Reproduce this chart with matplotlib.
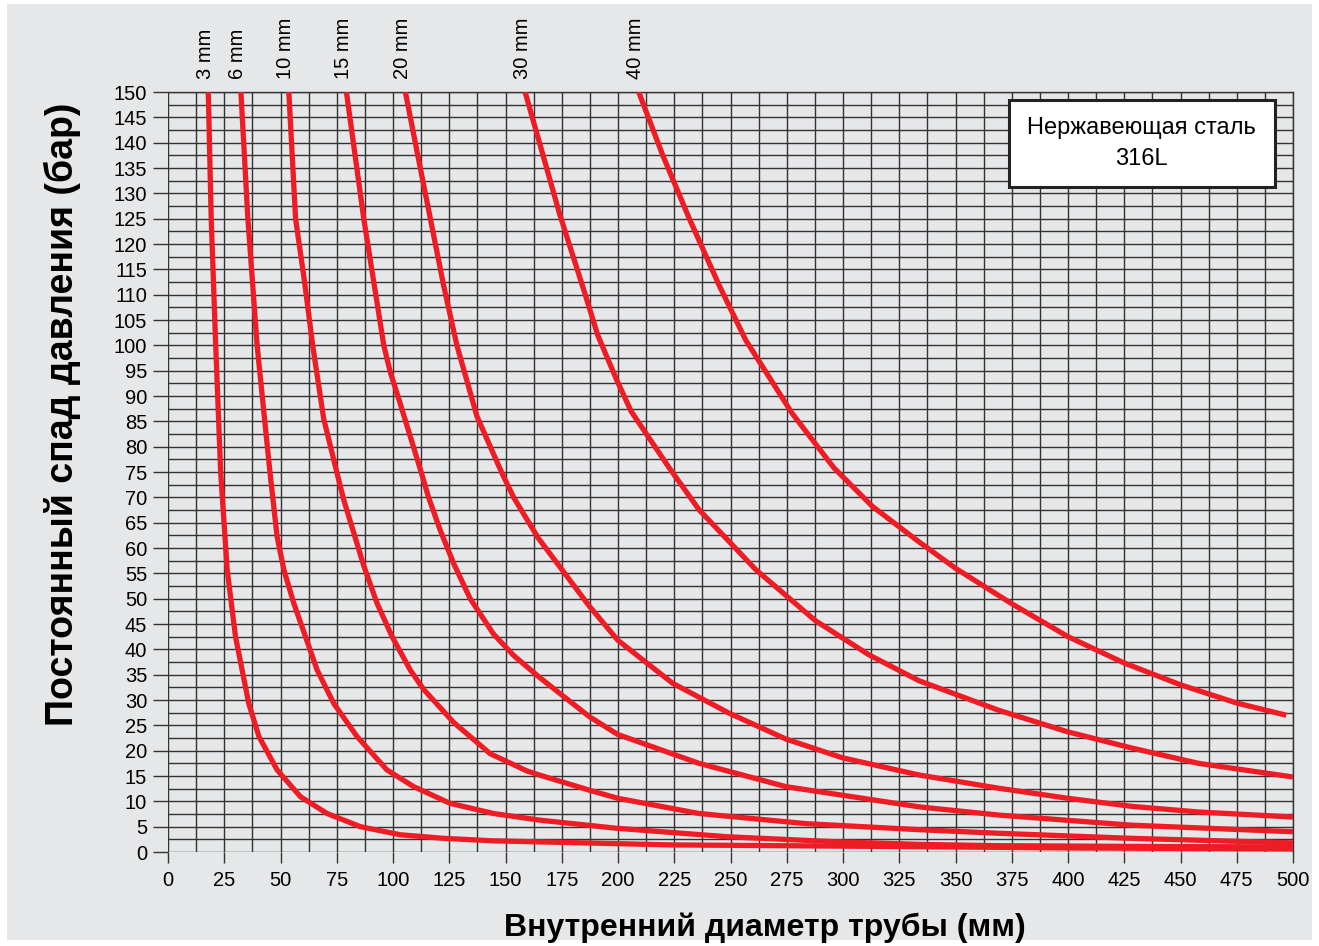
import matplotlib
matplotlib.use('Agg')
import matplotlib.pyplot as plt
from matplotlib.patches import Rectangle
from matplotlib.ticker import MultipleLocator

plt.rcParams['font.family'] = ['Liberation Sans', 'DejaVu Sans']

# values: inner pipe diameter (mm) -> pressure drop (bar)
labels = ['3 mm', '6 mm', '10 mm', '15 mm', '20 mm', '30 mm', '40 mm']

d_3 = [17.9, 19.2, 21.2, 23.4, 26.3, 30.0, 35.9, 40.4, 48.5, 58.9, 70.7, 85.5, 103.3, 122.5, 144.7, 165, 224, 334, 400, 500]
p_3 = [150, 125, 100, 75, 55.7, 42.5, 29.3, 22.8, 16.2, 10.9, 7.6, 5.0, 3.4, 2.7, 2.2, 2.0, 1.4, 1.05, 0.8, 0.6]

d_6 = [32.4, 35.5, 39.6, 45.3, 48.5, 51.5, 55.9, 61.1, 66.3, 73.7, 84.0, 97.3, 109.2, 125.4, 144.7, 165, 199, 249, 298, 334, 369, 430, 500]
p_6 = [150, 125, 100, 75, 62.2, 55.7, 49.1, 42.5, 35.9, 29.3, 22.8, 16.2, 12.9, 9.6, 7.6, 6.3, 4.7, 3.0, 2.0, 1.5, 1.25, 1.1, 1.0]

d_10 = [53.7, 56.7, 60.7, 64.3, 69.2, 75, 78.1, 87, 92.9, 99.6, 107.7, 113.6, 126.9, 143.2, 159.5, 165, 187.3, 199.9, 236, 283.5, 334, 369, 428, 500]
p_10 = [150, 125, 112.5, 100, 85.5, 75, 69.5, 56.5, 49.1, 42.5, 35.9, 32.1, 25.6, 19.4, 16.0, 15.2, 12.2, 10.6, 7.6, 5.6, 4.4, 3.7, 2.7, 1.8]

d_15 = [79.3, 87, 95.9, 98.8, 103, 112.5, 115.8, 121, 126.9, 134.3, 144.7, 153.6, 165, 187.3, 199.9, 236, 274.6, 334, 369, 428, 500]
p_15 = [150, 125, 100, 94.7, 88.8, 75, 70, 63.5, 57, 50, 43, 38.8, 34.5, 26.7, 23.2, 17.5, 12.9, 8.9, 7.3, 5.3, 4.0]

d_20 = [105.5, 110.7, 116.6, 122.5, 128.4, 137.3, 148.2, 153.6, 164.5, 187.3, 199.9, 224.3, 249.4, 274.6, 299.7, 333.8, 369, 400, 428.5, 458, 500]
p_20 = [150, 138.2, 125, 111.8, 100, 86, 75, 70, 62, 48.5, 41.8, 33.3, 27.4, 22.3, 18.6, 15.2, 12.6, 10.6, 9.0, 7.9, 6.9]

d_30 = [158.7, 165.1, 174, 185.1, 191, 199.1, 205.8, 222.8, 236.1, 261.3, 287.9, 311.6, 333.8, 369, 400, 428.5, 458, 500]
p_30 = [150, 140, 126, 110.5, 102, 93.5, 87, 75.8, 67.5, 55.7, 45.6, 38.9, 33.8, 28.0, 23.7, 20.5, 17.5, 14.8]

d_40 = [209.2, 219.9, 231.7, 245, 256.8, 277.5, 296, 313.1, 333.8, 350, 375, 400, 425, 450, 475, 497]
p_40 = [150, 137.5, 125, 111.8, 101, 86.5, 75.8, 68.2, 61.2, 56, 49, 42.5, 37.3, 33.0, 29.4, 27.0]

curves = [(d_3, p_3), (d_6, p_6), (d_10, p_10), (d_15, p_15), (d_20, p_20), (d_30, p_30), (d_40, p_40)]

bg = '#e6e7e9'
grid_c = '#333333'
red = '#ee1c25'

fig = plt.figure(figsize=(13.19, 9.46), dpi=100, facecolor='white')
fig.patches.append(Rectangle((7 / 1319, 6 / 946), 1305 / 1319, 936 / 946, transform=fig.transFigure,
                             facecolor=bg, edgecolor='none', zorder=-10))

ax = fig.add_axes([168 / 1319, 1 - 852 / 946, 1125 / 1319, 760 / 946])
ax.patch.set_visible(False)
ax.set_xlim(0, 500)
ax.set_ylim(0, 150)

ax.xaxis.set_major_locator(MultipleLocator(25))
ax.xaxis.set_minor_locator(MultipleLocator(12.5))
ax.yaxis.set_major_locator(MultipleLocator(5))
ax.yaxis.set_minor_locator(MultipleLocator(2.5))
ax.grid(which='both', color=grid_c, linewidth=1.0)
ax.set_axisbelow(True)
ax.tick_params(axis='x', which='major', length=8, width=1.0, color=grid_c, pad=6, labelsize=14.5)
ax.tick_params(axis='y', which='major', length=11, width=1.0, color=grid_c, pad=4, labelsize=14.5)
ax.tick_params(which='minor', length=0)
for s in ax.spines.values():
    s.set_color(grid_c)
    s.set_linewidth(1.0)
ax.spines['left'].set_visible(False)
ax.spines['bottom'].set_visible(False)

for (d, p), lab in zip(curves, labels):
    ax.plot(d, p, color=red, linewidth=3.8, solid_capstyle='butt', solid_joinstyle='round', zorder=3)
    ax.text(d[0] - 1.3, 152.5, lab, rotation=90, ha='center', va='bottom', fontsize=14.5, clip_on=False)

ax.add_patch(Rectangle((373.7, 131.2), 118.1, 17.2, facecolor='white', edgecolor='#222222',
                       linewidth=2.2, zorder=5))
ax.text(432.8, 142.9, 'Нержавеющая сталь', ha='center', va='center', fontsize=17, zorder=6)
ax.text(432.8, 136.7, '316L', ha='center', va='center', fontsize=17, zorder=6)

fig.text(0.58, 1 - 928 / 946, 'Внутренний диаметр трубы (мм)', ha='center', va='center',
         fontsize=23, fontweight='bold')
fig.text(62 / 1319, 1 - 414 / 946, 'Постоянный спад давления (бар)', ha='center', va='center',
         rotation=90, fontsize=27, fontweight='bold')

plt.savefig('out.png', dpi=100)
